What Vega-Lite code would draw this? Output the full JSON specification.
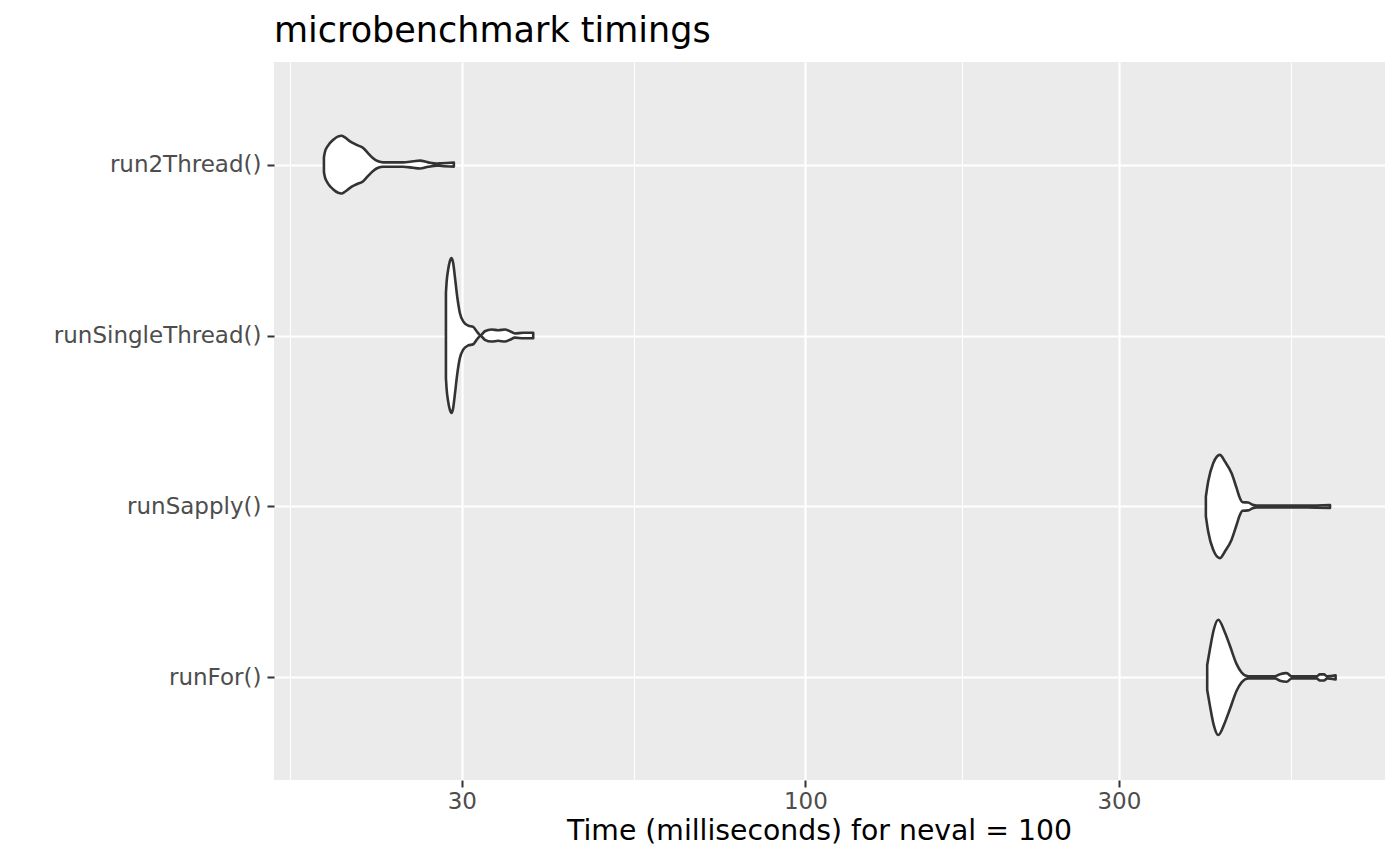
{
  "$schema": "https://vega.github.io/schema/vega-lite/v6.json",
  "description": "Violin plot of microbenchmark timings, outlines read off the reference",
  "width": 1111,
  "height": 718,
  "autosize": {"type": "none"},
  "padding": {"left": 274, "top": 62, "right": 15, "bottom": 85},
  "background": "white",
  "title": {
    "text": "microbenchmark timings",
    "anchor": "start",
    "frame": "group",
    "font": "DejaVu Sans",
    "fontSize": 35,
    "fontWeight": "normal",
    "color": "black",
    "baseline": "alphabetic",
    "offset": -15
  },
  "config": {
    "font": "DejaVu Sans",
    "view": {"fill": "#EBEBEB", "stroke": null}
  },
  "data": {
    "values": [
      {"expr": "run2Thread()", "t": 18.5, "hi": 4.043, "lo": 3.957},
      {"expr": "run2Thread()", "t": 18.56, "hi": 4.072, "lo": 3.928},
      {"expr": "run2Thread()", "t": 18.77, "hi": 4.111, "lo": 3.889},
      {"expr": "run2Thread()", "t": 19.1, "hi": 4.144, "lo": 3.856},
      {"expr": "run2Thread()", "t": 19.45, "hi": 4.165, "lo": 3.835},
      {"expr": "run2Thread()", "t": 19.68, "hi": 4.169, "lo": 3.831},
      {"expr": "run2Thread()", "t": 19.91, "hi": 4.159, "lo": 3.841},
      {"expr": "run2Thread()", "t": 20.27, "hi": 4.136, "lo": 3.864},
      {"expr": "run2Thread()", "t": 20.75, "hi": 4.115, "lo": 3.885},
      {"expr": "run2Thread()", "t": 21.23, "hi": 4.097, "lo": 3.903},
      {"expr": "run2Thread()", "t": 21.6, "hi": 4.066, "lo": 3.934},
      {"expr": "run2Thread()", "t": 21.98, "hi": 4.037, "lo": 3.963},
      {"expr": "run2Thread()", "t": 22.37, "hi": 4.019, "lo": 3.981},
      {"expr": "run2Thread()", "t": 22.77, "hi": 4.013, "lo": 3.987},
      {"expr": "run2Thread()", "t": 24.4, "hi": 4.013, "lo": 3.987},
      {"expr": "run2Thread()", "t": 25.3, "hi": 4.019, "lo": 3.981},
      {"expr": "run2Thread()", "t": 25.9, "hi": 4.023, "lo": 3.977},
      {"expr": "run2Thread()", "t": 26.66, "hi": 4.013, "lo": 3.987},
      {"expr": "run2Thread()", "t": 27.46, "hi": 4.006, "lo": 3.994},
      {"expr": "run2Thread()", "t": 27.94, "hi": 4.008, "lo": 3.992},
      {"expr": "run2Thread()", "t": 29.17, "hi": 4.012, "lo": 3.988},

      {"expr": "runSingleThread()", "t": 28.37, "hi": 3.249, "lo": 2.751},
      {"expr": "runSingleThread()", "t": 28.43, "hi": 3.307, "lo": 2.693},
      {"expr": "runSingleThread()", "t": 28.59, "hi": 3.385, "lo": 2.615},
      {"expr": "runSingleThread()", "t": 28.76, "hi": 3.434, "lo": 2.566},
      {"expr": "runSingleThread()", "t": 28.94, "hi": 3.453, "lo": 2.547},
      {"expr": "runSingleThread()", "t": 29.1, "hi": 3.424, "lo": 2.576},
      {"expr": "runSingleThread()", "t": 29.27, "hi": 3.346, "lo": 2.654},
      {"expr": "runSingleThread()", "t": 29.51, "hi": 3.229, "lo": 2.771},
      {"expr": "runSingleThread()", "t": 29.79, "hi": 3.132, "lo": 2.868},
      {"expr": "runSingleThread()", "t": 30.14, "hi": 3.083, "lo": 2.917},
      {"expr": "runSingleThread()", "t": 30.67, "hi": 3.058, "lo": 2.942},
      {"expr": "runSingleThread()", "t": 31.21, "hi": 3.051, "lo": 2.949},
      {"expr": "runSingleThread()", "t": 31.59, "hi": 3.025, "lo": 2.975},
      {"expr": "runSingleThread()", "t": 32.03, "hi": 3.002, "lo": 2.998},
      {"expr": "runSingleThread()", "t": 32.52, "hi": 3.025, "lo": 2.975},
      {"expr": "runSingleThread()", "t": 33.29, "hi": 3.035, "lo": 2.965},
      {"expr": "runSingleThread()", "t": 34.07, "hi": 3.031, "lo": 2.969},
      {"expr": "runSingleThread()", "t": 34.88, "hi": 3.035, "lo": 2.965},
      {"expr": "runSingleThread()", "t": 35.5, "hi": 3.025, "lo": 2.975},
      {"expr": "runSingleThread()", "t": 36.13, "hi": 3.012, "lo": 2.988},
      {"expr": "runSingleThread()", "t": 37.19, "hi": 3.016, "lo": 2.984},
      {"expr": "runSingleThread()", "t": 38.52, "hi": 3.016, "lo": 2.984},

      {"expr": "runSapply()", "t": 406.9, "hi": 2.058, "lo": 1.942},
      {"expr": "runSapply()", "t": 410.2, "hi": 2.146, "lo": 1.854},
      {"expr": "runSapply()", "t": 417.5, "hi": 2.253, "lo": 1.747},
      {"expr": "runSapply()", "t": 427.4, "hi": 2.302, "lo": 1.698},
      {"expr": "runSapply()", "t": 435.0, "hi": 2.263, "lo": 1.737},
      {"expr": "runSapply()", "t": 445.3, "hi": 2.194, "lo": 1.806},
      {"expr": "runSapply()", "t": 453.2, "hi": 2.107, "lo": 1.893},
      {"expr": "runSapply()", "t": 458.5, "hi": 2.048, "lo": 1.952},
      {"expr": "runSapply()", "t": 462.9, "hi": 2.025, "lo": 1.975},
      {"expr": "runSapply()", "t": 472.0, "hi": 2.023, "lo": 1.977},
      {"expr": "runSapply()", "t": 479.3, "hi": 2.01, "lo": 1.99},
      {"expr": "runSapply()", "t": 486.1, "hi": 2.005, "lo": 1.995},
      {"expr": "runSapply()", "t": 520, "hi": 2.006, "lo": 1.994},
      {"expr": "runSapply()", "t": 580, "hi": 2.006, "lo": 1.994},
      {"expr": "runSapply()", "t": 628.7, "hi": 2.009, "lo": 1.991},

      {"expr": "runFor()", "t": 408.8, "hi": 1.073, "lo": 0.927},
      {"expr": "runFor()", "t": 412.7, "hi": 1.165, "lo": 0.835},
      {"expr": "runFor()", "t": 418.5, "hi": 1.282, "lo": 0.718},
      {"expr": "runFor()", "t": 424.9, "hi": 1.337, "lo": 0.663},
      {"expr": "runFor()", "t": 435.0, "hi": 1.263, "lo": 0.737},
      {"expr": "runFor()", "t": 442.7, "hi": 1.185, "lo": 0.815},
      {"expr": "runFor()", "t": 453.2, "hi": 1.078, "lo": 0.922},
      {"expr": "runFor()", "t": 461.2, "hi": 1.029, "lo": 0.971},
      {"expr": "runFor()", "t": 472.0, "hi": 1.006, "lo": 0.994},
      {"expr": "runFor()", "t": 518.3, "hi": 1.006, "lo": 0.994},
      {"expr": "runFor()", "t": 527.5, "hi": 1.019, "lo": 0.981},
      {"expr": "runFor()", "t": 540.1, "hi": 1.025, "lo": 0.975},
      {"expr": "runFor()", "t": 549.6, "hi": 1.006, "lo": 0.994},
      {"expr": "runFor()", "t": 599.9, "hi": 1.006, "lo": 0.994},
      {"expr": "runFor()", "t": 606.8, "hi": 1.018, "lo": 0.982},
      {"expr": "runFor()", "t": 615.4, "hi": 1.018, "lo": 0.982},
      {"expr": "runFor()", "t": 622.5, "hi": 1.006, "lo": 0.994},
      {"expr": "runFor()", "t": 641.1, "hi": 1.012, "lo": 0.988}
    ]
  },
  "mark": {
    "type": "area",
    "orient": "vertical",
    "fill": "white",
    "stroke": "#333333",
    "strokeWidth": 2.6,
    "strokeJoin": "round",
    "interpolate": "monotone"
  },
  "encoding": {
    "x": {
      "field": "t",
      "type": "quantitative",
      "title": "Time (milliseconds) for neval = 100",
      "scale": {"type": "log", "domain": [15.53, 762.3], "nice": false, "zero": false},
      "axis": {
        "values": [16.43, 30, 54.77, 100, 173.2, 300, 547.7],
        "labelExpr": "datum.value == 30 || datum.value == 100 || datum.value == 300 ? '' + datum.value : ''",
        "labelOverlap": false,
        "labelFlush": false,
        "grid": true,
        "gridColor": "white",
        "gridWidth": {"condition": {"test": "datum.value == 30 || datum.value == 100 || datum.value == 300", "value": 2.2}, "value": 1.1},
        "domain": false,
        "tickColor": "#333333",
        "tickWidth": 2,
        "tickSize": 7,
        "tickOpacity": {"condition": {"test": "datum.value == 30 || datum.value == 100 || datum.value == 300", "value": 1}, "value": 0},
        "labelFontSize": 23,
        "labelColor": "#4D4D4D",
        "labelPadding": 3,
        "titleFontSize": 28.3,
        "titleFontWeight": "normal",
        "titleColor": "black",
        "titlePadding": 4,
        "titleX": 545
      }
    },
    "y": {
      "field": "hi",
      "type": "quantitative",
      "title": null,
      "scale": {"domain": [0.4, 4.6], "nice": false, "zero": false},
      "axis": {
        "values": [1, 2, 3, 4],
        "labelExpr": "datum.value == 4 ? 'run2Thread()' : datum.value == 3 ? 'runSingleThread()' : datum.value == 2 ? 'runSapply()' : 'runFor()'",
        "labelLimit": 400,
        "grid": true,
        "gridColor": "white",
        "gridWidth": 2.2,
        "domain": false,
        "tickColor": "#333333",
        "tickWidth": 2,
        "tickSize": 7,
        "labelFontSize": 23,
        "labelColor": "#4D4D4D",
        "labelPadding": 6
      }
    },
    "y2": {"field": "lo"},
    "detail": {"field": "expr"}
  }
}
